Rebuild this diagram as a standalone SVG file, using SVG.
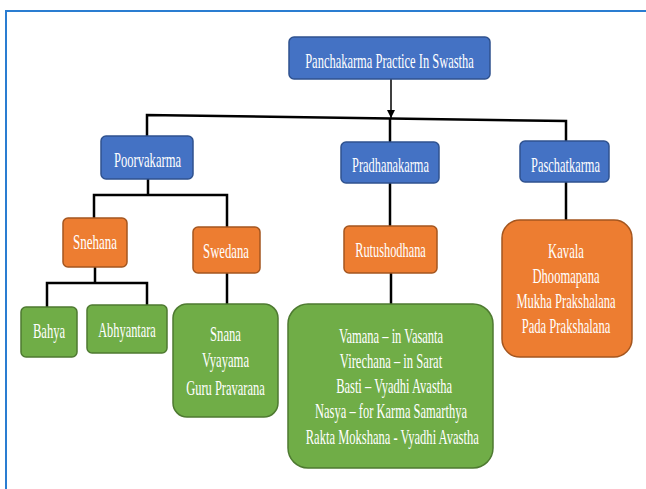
<svg xmlns="http://www.w3.org/2000/svg" width="646" height="489" viewBox="0 0 646 489">
<defs>
<style>
.t{font-family:"Liberation Serif","Times New Roman",serif;font-size:20px;fill:#ffffff;text-anchor:middle;}
.blue{fill:#4472C4;stroke:#2F528F;stroke-width:1.5;}
.orange{fill:#ED7D31;stroke:#A4561F;stroke-width:1.5;}
.green{fill:#70AD47;stroke:#4E7A31;stroke-width:1.5;}
.c{fill:none;stroke:#000;stroke-width:2.5;}
</style>
<marker id="arr" viewBox="0 0 10 10" refX="10" refY="5" markerWidth="8" markerHeight="8" markerUnits="userSpaceOnUse" orient="auto">
<path d="M0,0 L10,5 L0,10 z" fill="#000"/>
</marker>
</defs>
<rect width="646" height="489" fill="#ffffff"/>
<path d="M6,489 V11 H646" fill="none" stroke="#2A7DD1" stroke-width="2"/>
<g id="connectors">
<line x1="391" y1="79" x2="391" y2="118" stroke="#000" stroke-width="1.5" marker-end="url(#arr)"/>
<path class="c" d="M147,136 V115 L566,121 V141"/>
<line class="c" x1="390" y1="118" x2="390" y2="142"/>
<path class="c" d="M148,179 V195"/>
<path class="c" d="M94,219 V195 H227 V228"/>
<line class="c" x1="390" y1="183" x2="390" y2="226"/>
<line class="c" x1="566" y1="182" x2="566" y2="220"/>
<path class="c" d="M95,267 V283"/>
<path class="c" d="M47,307 V283 H147 V306"/>
<line class="c" x1="227" y1="273" x2="227" y2="305"/>
<line class="c" x1="391" y1="273" x2="391" y2="305"/>
</g>
<g id="n-root">
<rect class="blue" x="289" y="37" width="201" height="42" rx="5"/>
<g transform="translate(389.5,0) scale(0.62,1)"><text class="t" x="0" y="68" textLength="272" lengthAdjust="spacingAndGlyphs">Panchakarma Practice In Swastha</text></g>
</g>
<g id="n-poorvakarma">
<rect class="blue" x="101" y="136" width="92" height="43" rx="5"/>
<g transform="translate(147.5,0) scale(0.62,1)"><text class="t" x="0" y="167" textLength="108" lengthAdjust="spacingAndGlyphs">Poorvakarma</text></g>
</g>
<g id="n-pradhanakarma">
<rect class="blue" x="341" y="142" width="98" height="41" rx="5"/>
<g transform="translate(390.5,0) scale(0.62,1)"><text class="t" x="0" y="172" textLength="124" lengthAdjust="spacingAndGlyphs">Pradhanakarma</text></g>
</g>
<g id="n-paschatkarma">
<rect class="blue" x="520" y="141" width="89" height="41" rx="5"/>
<g transform="translate(565.5,0) scale(0.62,1)"><text class="t" x="0" y="172" textLength="111" lengthAdjust="spacingAndGlyphs">Paschatkarma</text></g>
</g>
<g id="n-snehana">
<rect class="orange" x="63" y="218" width="64" height="49" rx="5"/>
<g transform="translate(95,0) scale(0.62,1)"><text class="t" x="0" y="249" textLength="71" lengthAdjust="spacingAndGlyphs">Snehana</text></g>
</g>
<g id="n-swedana">
<rect class="orange" x="193" y="227" width="67" height="46" rx="5"/>
<g transform="translate(226,0) scale(0.62,1)"><text class="t" x="0" y="258" textLength="74" lengthAdjust="spacingAndGlyphs">Swedana</text></g>
</g>
<g id="n-rutushodhana">
<rect class="orange" x="344" y="226" width="93" height="47" rx="5"/>
<g transform="translate(390.5,0) scale(0.62,1)"><text class="t" x="0" y="257" textLength="114" lengthAdjust="spacingAndGlyphs">Rutushodhana</text></g>
</g>
<g id="n-paschat-list">
<rect class="orange" x="502" y="220" width="130" height="137" rx="18"/>
<g transform="translate(566,0) scale(0.62,1)">
<text class="t" x="0" y="258" textLength="58" lengthAdjust="spacingAndGlyphs">Kavala</text>
<text class="t" x="0" y="283" textLength="108" lengthAdjust="spacingAndGlyphs">Dhoomapana</text>
<text class="t" x="0" y="308" textLength="160" lengthAdjust="spacingAndGlyphs">Mukha Prakshalana</text>
<text class="t" x="0" y="333" textLength="143" lengthAdjust="spacingAndGlyphs">Pada Prakshalana</text>
</g>
</g>
<g id="n-bahya">
<rect class="green" x="21" y="307" width="56" height="50" rx="5"/>
<g transform="translate(49,0) scale(0.62,1)"><text class="t" x="0" y="338" textLength="52" lengthAdjust="spacingAndGlyphs">Bahya</text></g>
</g>
<g id="n-abhyantara">
<rect class="green" x="87" y="305" width="80" height="48" rx="5"/>
<g transform="translate(127,0) scale(0.62,1)"><text class="t" x="0" y="337" textLength="93" lengthAdjust="spacingAndGlyphs">Abhyantara</text></g>
</g>
<g id="n-swedana-list">
<rect class="green" x="173" y="304" width="105" height="113" rx="14"/>
<g transform="translate(225.5,0) scale(0.62,1)">
<text class="t" x="0" y="341" textLength="50" lengthAdjust="spacingAndGlyphs">Snana</text>
<text class="t" x="0" y="367" textLength="76" lengthAdjust="spacingAndGlyphs">Vyayama</text>
<text class="t" x="0" y="395" textLength="127" lengthAdjust="spacingAndGlyphs">Guru Pravarana</text>
</g>
</g>
<g id="n-rutu-list">
<rect class="green" x="288" y="304" width="205" height="164" rx="20"/>
<g transform="translate(391,0) scale(0.62,1)">
<text class="t" x="0" y="343" textLength="168" lengthAdjust="spacingAndGlyphs">Vamana – in Vasanta</text>
<text class="t" x="0" y="368" textLength="165" lengthAdjust="spacingAndGlyphs">Virechana – in Sarat</text>
<text class="t" x="5" y="393" textLength="187" lengthAdjust="spacingAndGlyphs">Basti – Vyadhi Avastha</text>
<text class="t" x="0" y="418" textLength="245" lengthAdjust="spacingAndGlyphs">Nasya – for Karma Samarthya</text>
<text class="t" x="2" y="444" textLength="279" lengthAdjust="spacingAndGlyphs">Rakta Mokshana - Vyadhi Avastha</text>
</g>
</g>
</svg>
